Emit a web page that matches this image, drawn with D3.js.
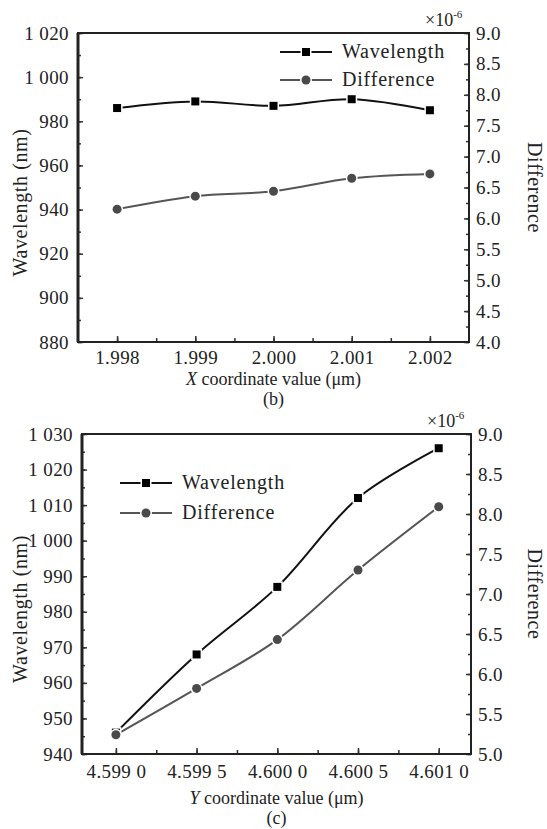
<!doctype html>
<html lang="en">
<head>
<meta charset="utf-8">
<script src="https://cdn.jsdelivr.net/npm/d3@7"></script>
<style>
 body { margin: 0; background: #fff; }
</style>
</head>
<body>
<svg id="chart" width="547" height="829" font-family="'Liberation Serif', 'DejaVu Serif', 'Times New Roman', serif"></svg>
<script>
// panel (b): X coordinate sweep
var xB = [1.998, 1.999, 2.000, 2.001, 2.002];
var wavelengthB = [986, 989, 987, 990, 985];
var differenceB = [6.15, 6.36, 6.44, 6.65, 6.72];
var xTicksB = ["1.998", "1.999", "2.000", "2.001", "2.002"];

// panel (c): Y coordinate sweep
var xC = [4.5990, 4.5995, 4.6000, 4.6005, 4.6010];
var wavelengthC = [946, 968, 987, 1012, 1026];
var differenceC = [5.24, 5.82, 6.43, 7.30, 8.09];
var xTicksC = ["4.599 0", "4.599 5", "4.600 0", "4.600 5", "4.601 0"];

var seriesNames = ["Wavelength", "Difference"];

var serif = "'Liberation Serif', 'DejaVu Serif', 'Times New Roman', serif";
var svg = d3.select("#chart");

function fmtLeft(d) {
    if (d >= 1000) return "1 " + d3.format("03d")(d - 1000);
    return String(d);
}

function drawPanel(p) {
    var g = svg.append("g");
    var x = d3.scaleLinear().domain(p.xDomain).range([p.left, p.right]);
    var yL = d3.scaleLinear().domain(p.yLeft).range([p.bottom, p.top]);
    var yR = d3.scaleLinear().domain(p.yRight).range([p.bottom, p.top]);

    // minor ticks (all inward)
    var minorX = d3.range(-1, p.xs.length * 2).map(function (i) { return p.xs[0] + i * p.xStep / 2; })
        .filter(function (v) { return v > p.xDomain[0] && v < p.xDomain[1]; });
    g.append("g").attr("transform", "translate(0," + p.bottom + ")")
        .call(d3.axisBottom(x).tickValues(minorX).tickSize(-4).tickFormat(""))
        .select(".domain").remove();
    g.append("g").attr("transform", "translate(" + p.left + ",0)")
        .call(d3.axisLeft(yL).tickValues(d3.range(p.yLeft[0], p.yLeft[1] + 0.1, p.leftMinor))
            .tickSize(-3).tickFormat(""))
        .select(".domain").remove();
    g.append("g").attr("transform", "translate(" + p.right + ",0)")
        .call(d3.axisRight(yR).tickValues(d3.range(p.yRight[0], p.yRight[1] + 0.01, 0.25))
            .tickSize(-3).tickFormat(""))
        .select(".domain").remove();

    // major ticks with labels
    g.append("g").attr("transform", "translate(" + p.left + ",0)")
        .call(d3.axisLeft(yL).tickValues(d3.range(p.yLeft[0], p.yLeft[1] + 0.1, p.leftMajor))
            .tickSize(-5).tickPadding(9).tickFormat(fmtLeft))
        .select(".domain").remove();
    g.append("g").attr("transform", "translate(" + p.right + ",0)")
        .call(d3.axisRight(yR).tickValues(d3.range(p.yRight[0], p.yRight[1] + 0.01, 0.5))
            .tickSize(-5).tickPadding(7).tickFormat(d3.format(".1f")))
        .select(".domain").remove();
    g.append("g").attr("transform", "translate(0," + p.bottom + ")")
        .call(d3.axisBottom(x).tickValues(p.xs).tickSize(-6).tickPadding(p.xPad)
            .tickFormat(function (d, i) { return p.xLabels[i]; }))
        .select(".domain").remove();

    g.selectAll(".tick line").attr("stroke", "#333").attr("stroke-width", 1.5);
    g.selectAll("g").attr("font-family", serif);
    g.selectAll(".tick text").attr("font-size", 19).attr("letter-spacing", 0.4).attr("fill", "#222");

    // frame
    g.append("rect").attr("x", p.left).attr("y", p.top)
        .attr("width", p.right - p.left).attr("height", p.bottom - p.top)
        .attr("fill", "none").attr("stroke", "#222").attr("stroke-width", 2);
    g.append("line").attr("x1", p.left).attr("x2", p.left).attr("y1", p.top).attr("y2", p.bottom)
        .attr("stroke", "#222").attr("stroke-width", 3);

    var line = d3.line().curve(d3.curveCatmullRom.alpha(0.5));

    var ptsW = p.xs.map(function (d, i) { return [x(d), yL(p.wl[i])]; });
    var ptsD = p.xs.map(function (d, i) { return [x(d), yR(p.diff[i])]; });

    g.append("path").attr("d", line(ptsD)).attr("fill", "none")
        .attr("stroke", "#555").attr("stroke-width", 2);
    g.append("path").attr("d", line(ptsW)).attr("fill", "none")
        .attr("stroke", "#111").attr("stroke-width", 2);

    g.selectAll(".sq").data(ptsW).enter().append("rect")
        .attr("x", function (d) { return d[0] - 4; })
        .attr("y", function (d) { return d[1] - 4; })
        .attr("width", 8).attr("height", 8)
        .attr("fill", "#000").attr("stroke", "#fff").attr("stroke-width", 3)
        .attr("paint-order", "stroke");
    g.selectAll(".ci").data(ptsD).enter().append("circle")
        .attr("cx", function (d) { return d[0]; })
        .attr("cy", function (d) { return d[1]; })
        .attr("r", 4.5)
        .attr("fill", "#4a4a4a").attr("stroke", "#fff").attr("stroke-width", 3)
        .attr("paint-order", "stroke");

    // legend
    seriesNames.forEach(function (name, i) {
        var ly = p.legY + i * p.legGap;
        g.append("line").attr("x1", p.legX).attr("x2", p.legX + 52)
            .attr("y1", ly).attr("y2", ly)
            .attr("stroke", i ? "#555" : "#111").attr("stroke-width", 2);
        if (i == 0) {
            g.append("rect").attr("x", p.legX + 22).attr("y", ly - 4).attr("width", 8).attr("height", 8)
                .attr("fill", "#000").attr("stroke", "#fff").attr("stroke-width", 3).attr("paint-order", "stroke");
        } else {
            g.append("circle").attr("cx", p.legX + 26).attr("cy", ly).attr("r", 4.5)
                .attr("fill", "#4a4a4a").attr("stroke", "#fff").attr("stroke-width", 3).attr("paint-order", "stroke");
        }
        g.append("text").attr("x", p.legX + 62).attr("y", ly + 6)
            .attr("font-size", 20).attr("letter-spacing", 0.8).attr("fill", "#222").text(name);
    });

    // exponent label
    var ex = g.append("text").attr("x", p.right - 44).attr("y", p.top - 7)
        .attr("font-size", 18).attr("fill", "#222");
    ex.append("tspan").text("×10");
    ex.append("tspan").attr("font-size", 11).attr("dy", -8).text("-6");

    // axis titles
    g.append("text").attr("transform", "translate(27," + ((p.top + p.bottom) / 2 + 15) + ") rotate(-90)")
        .attr("text-anchor", "middle").attr("font-size", 20).attr("letter-spacing", 0.6)
        .attr("fill", "#222").text("Wavelength (nm)");
    g.append("text").attr("transform", "translate(528," + ((p.top + p.bottom) / 2) + ") rotate(90)")
        .attr("text-anchor", "middle").attr("font-size", 20).attr("letter-spacing", 0.6)
        .attr("fill", "#222").text("Difference");

    var t = g.append("text").attr("x", (p.left + p.right) / 2).attr("y", p.bottom + p.titleDy)
        .attr("text-anchor", "middle").attr("font-size", 18).attr("fill", "#222");
    t.append("tspan").attr("font-style", "italic").text(p.axisLetter);
    t.append("tspan").text(" coordinate value (μm)");

    g.append("text").attr("x", (p.left + p.right) / 2).attr("y", p.bottom + p.tagDy)
        .attr("text-anchor", "middle").attr("font-size", 18).attr("fill", "#222").text(p.tag);
}

drawPanel({
    xs: xB, wl: wavelengthB, diff: differenceB, xLabels: xTicksB,
    xDomain: [1.9975, 2.0025], xStep: 0.001,
    yLeft: [880, 1020], leftMajor: 20, leftMinor: 10, yRight: [4, 9],
    left: 78, right: 469, top: 33, bottom: 342,
    legX: 280, legY: 52, legGap: 28,
    xPad: 9, titleDy: 43, tagDy: 63,
    axisLetter: "X", tag: "(b)"
});

drawPanel({
    xs: xC, wl: wavelengthC, diff: differenceC, xLabels: xTicksC,
    xDomain: [4.59879, 4.6012], xStep: 0.0005,
    yLeft: [940, 1030], leftMajor: 10, leftMinor: 5, yRight: [5, 9],
    left: 82, right: 471, top: 434, bottom: 754,
    legX: 120, legY: 483, legGap: 30,
    xPad: 11, titleDy: 50, tagDy: 70,
    axisLetter: "Y", tag: "(c)"
});
</script>
</body>
</html>
